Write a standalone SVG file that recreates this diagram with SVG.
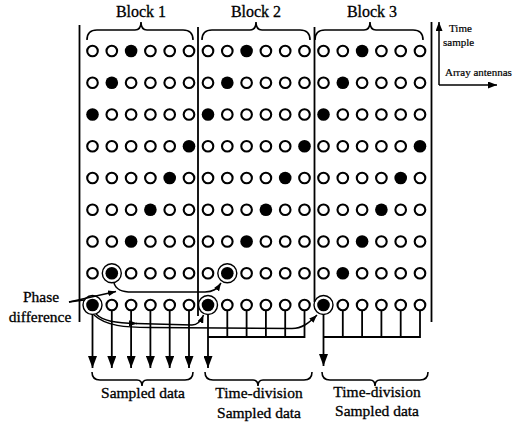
<svg xmlns="http://www.w3.org/2000/svg" xmlns:xlink="http://www.w3.org/1999/xlink" width="513" height="425" viewBox="0 0 513 425">
<style>
.o{fill:#fff;stroke:#000;stroke-width:2.1}
.f{fill:#000}
.ring{fill:none;stroke:#000;stroke-width:1.4}
.ln{fill:none;stroke:#000;stroke-width:1.8}
.thin{fill:none;stroke:#000;stroke-width:1.5}
.br{fill:none;stroke:#000;stroke-width:1.6}
.t{font-family:"Liberation Serif","Times New Roman",serif;fill:#000;stroke:#000;stroke-width:0.3}
.lbl{font-size:16px}
.lab{font-size:15.5px}
.sm{font-size:11px;stroke-width:0.2}
</style>
<defs>
<marker id="big" markerUnits="userSpaceOnUse" markerWidth="12" markerHeight="9" refX="12" refY="4.5" orient="auto"><path d="M0,0 L12,4.5 L0,9 z" fill="#000"/></marker>
<marker id="small" markerUnits="userSpaceOnUse" markerWidth="8" markerHeight="6" refX="8" refY="3" orient="auto"><path d="M0,0 L8,3 L0,6 z" fill="#000"/></marker>
<marker id="leg" markerUnits="userSpaceOnUse" markerWidth="9" markerHeight="7" refX="9" refY="3.5" orient="auto"><path d="M0,0 L9,3.5 L0,7 z" fill="#000"/></marker>
<g id="pat">
<circle class="o" cx="0" cy="51" r="5.3"/><circle class="o" cx="19.3" cy="51" r="5.3"/><circle class="f" cx="38.6" cy="51" r="6.3"/><circle class="o" cx="57.9" cy="51" r="5.3"/><circle class="o" cx="77.2" cy="51" r="5.3"/><circle class="o" cx="96.5" cy="51" r="5.3"/>
<circle class="o" cx="0" cy="82.75" r="5.3"/><circle class="f" cx="19.3" cy="82.75" r="6.3"/><circle class="o" cx="38.6" cy="82.75" r="5.3"/><circle class="o" cx="57.9" cy="82.75" r="5.3"/><circle class="o" cx="77.2" cy="82.75" r="5.3"/><circle class="o" cx="96.5" cy="82.75" r="5.3"/>
<circle class="f" cx="0" cy="114.5" r="6.3"/><circle class="o" cx="19.3" cy="114.5" r="5.3"/><circle class="o" cx="38.6" cy="114.5" r="5.3"/><circle class="o" cx="57.9" cy="114.5" r="5.3"/><circle class="o" cx="77.2" cy="114.5" r="5.3"/><circle class="o" cx="96.5" cy="114.5" r="5.3"/>
<circle class="o" cx="0" cy="146.25" r="5.3"/><circle class="o" cx="19.3" cy="146.25" r="5.3"/><circle class="o" cx="38.6" cy="146.25" r="5.3"/><circle class="o" cx="57.9" cy="146.25" r="5.3"/><circle class="o" cx="77.2" cy="146.25" r="5.3"/><circle class="f" cx="96.5" cy="146.25" r="6.3"/>
<circle class="o" cx="0" cy="178" r="5.3"/><circle class="o" cx="19.3" cy="178" r="5.3"/><circle class="o" cx="38.6" cy="178" r="5.3"/><circle class="o" cx="57.9" cy="178" r="5.3"/><circle class="f" cx="77.2" cy="178" r="6.3"/><circle class="o" cx="96.5" cy="178" r="5.3"/>
<circle class="o" cx="0" cy="209.75" r="5.3"/><circle class="o" cx="19.3" cy="209.75" r="5.3"/><circle class="o" cx="38.6" cy="209.75" r="5.3"/><circle class="f" cx="57.9" cy="209.75" r="6.3"/><circle class="o" cx="77.2" cy="209.75" r="5.3"/><circle class="o" cx="96.5" cy="209.75" r="5.3"/>
<circle class="o" cx="0" cy="241.5" r="5.3"/><circle class="o" cx="19.3" cy="241.5" r="5.3"/><circle class="f" cx="38.6" cy="241.5" r="6.3"/><circle class="o" cx="57.9" cy="241.5" r="5.3"/><circle class="o" cx="77.2" cy="241.5" r="5.3"/><circle class="o" cx="96.5" cy="241.5" r="5.3"/>
<circle class="o" cx="0" cy="273.25" r="5.3"/><circle class="f" cx="19.3" cy="273.25" r="6.3"/><circle class="o" cx="38.6" cy="273.25" r="5.3"/><circle class="o" cx="57.9" cy="273.25" r="5.3"/><circle class="o" cx="77.2" cy="273.25" r="5.3"/><circle class="o" cx="96.5" cy="273.25" r="5.3"/>
<circle class="f" cx="0" cy="305" r="6.3"/><circle class="o" cx="19.3" cy="305" r="5.3"/><circle class="o" cx="38.6" cy="305" r="5.3"/><circle class="o" cx="57.9" cy="305" r="5.3"/><circle class="o" cx="77.2" cy="305" r="5.3"/><circle class="o" cx="96.5" cy="305" r="5.3"/>
</g>
</defs>
<rect width="513" height="425" fill="#fff"/>

<g id="frame">
<path class="ln" d="M79.5,25 V322 M198,27 V316 M314.5,27 V302 M431.5,22 V322"/>
</g>

<g id="block1">
<text class="t lbl" x="141" y="17" text-anchor="middle">Block 1</text>
<path class="br" d="M87,40 Q87,30 97,30 L135,30 Q141,30 141,22 Q141,30 147,30 L183,30 Q193,30 193,40"/>
<use xlink:href="#pat" transform="translate(92.5,0)"/>
<circle class="ring" cx="111.8" cy="273.25" r="9.5"/>
<circle class="ring" cx="92.5" cy="305" r="9.5"/>
</g>

<g id="block2">
<text class="t lbl" x="256" y="17" text-anchor="middle">Block 2</text>
<path class="br" d="M202,40 Q202,30 212,30 L250,30 Q256,30 256,22 Q256,30 262,30 L300,30 Q310,30 310,40"/>
<use xlink:href="#pat" transform="translate(208,0)"/>
<circle class="ring" cx="227.3" cy="273.25" r="9.5"/>
<circle class="ring" cx="208" cy="305" r="9.5"/>
</g>

<g id="block3">
<text class="t lbl" x="372" y="17" text-anchor="middle">Block 3</text>
<path class="br" d="M315,40 Q315,30 325,30 L364,30 Q370,30 370,22 Q370,30 376,30 L413,30 Q423,30 423,40"/>
<use xlink:href="#pat" transform="translate(323.5,0)"/>
<circle class="ring" cx="323.5" cy="305" r="9.5"/>
</g>

<g id="legend">
<path class="thin" d="M439,85 V22" marker-end="url(#leg)"/>
<path class="thin" d="M439,85 H497" marker-end="url(#leg)"/>
<text class="t sm" x="449" y="32">Time</text>
<text class="t sm" x="443" y="46">sample</text>
<text class="t sm" x="445" y="76">Array antennas</text>
</g>

<g id="phase-label">
<text class="t lab" x="41" y="302" text-anchor="middle">Phase</text>
<text class="t lab" x="40" y="322" text-anchor="middle">difference</text>
</g>

<g id="connectors">
<path class="thin" d="M69,302 L116,291.5" marker-end="url(#small)"/>
<path class="thin" d="M69,302 L84,300"/>
<path class="thin" d="M114,283 C116,290 122,292 132,292 L205,292 C213,292 217,289 221,283" marker-end="url(#small)"/>
<path class="thin" d="M96,314 C103,321 115,323 137,323.5" marker-end="url(#small)"/>
<path class="thin" d="M136,323.5 L192,325 C198,325 201,321 203.5,315" marker-end="url(#small)"/>
<path class="thin" d="M94,315 C106,326 125,327.5 150,327.5 L292,328.5 C302,328.5 309,323 317,315" marker-end="url(#small)"/>
<g class="ln">
<path d="M92.5,315 V368" marker-end="url(#big)"/>
<path d="M111.8,311 V368" marker-end="url(#big)"/>
<path d="M131.1,311 V368" marker-end="url(#big)"/>
<path d="M150.4,311 V368" marker-end="url(#big)"/>
<path d="M169.7,311 V368" marker-end="url(#big)"/>
<path d="M189,311 V368" marker-end="url(#big)"/>
<path d="M208,315 V368" marker-end="url(#big)"/>
<path d="M227.3,311 V337 M246.6,311 V337 M265.9,311 V337 M285.2,311 V337 M304.5,311 V337 M208,337 H305.4"/>
<path d="M323.5,315 V366" marker-end="url(#big)"/>
<path d="M342.8,311 V337 M362.1,311 V337 M381.4,311 V337 M400.7,311 V337 M420,311 V337 M323.5,337 H420.9"/>
</g>
</g>

<g id="bottom-labels">
<path class="br" d="M92,372 Q92,380 100,380 L137,380 Q142,380 142,386 Q142,380 147,380 L185,380 Q193,380 193,372"/>
<path class="br" d="M205,372 Q205,380 213,380 L253,380 Q258,380 258,386 Q258,380 263,380 L304,380 Q312,380 312,372"/>
<path class="br" d="M322,372 Q322,380 330,380 L370,380 Q375,380 375,386 Q375,380 380,380 L420,380 Q428,380 428,372"/>
<text class="t lab" x="143" y="398" text-anchor="middle">Sampled data</text>
<text class="t lab" x="259" y="398" text-anchor="middle">Time-division</text>
<text class="t lab" x="259" y="418" text-anchor="middle">Sampled data</text>
<text class="t lab" x="377" y="397" text-anchor="middle">Time-division</text>
<text class="t lab" x="377" y="416" text-anchor="middle">Sampled data</text>
</g>
</svg>
